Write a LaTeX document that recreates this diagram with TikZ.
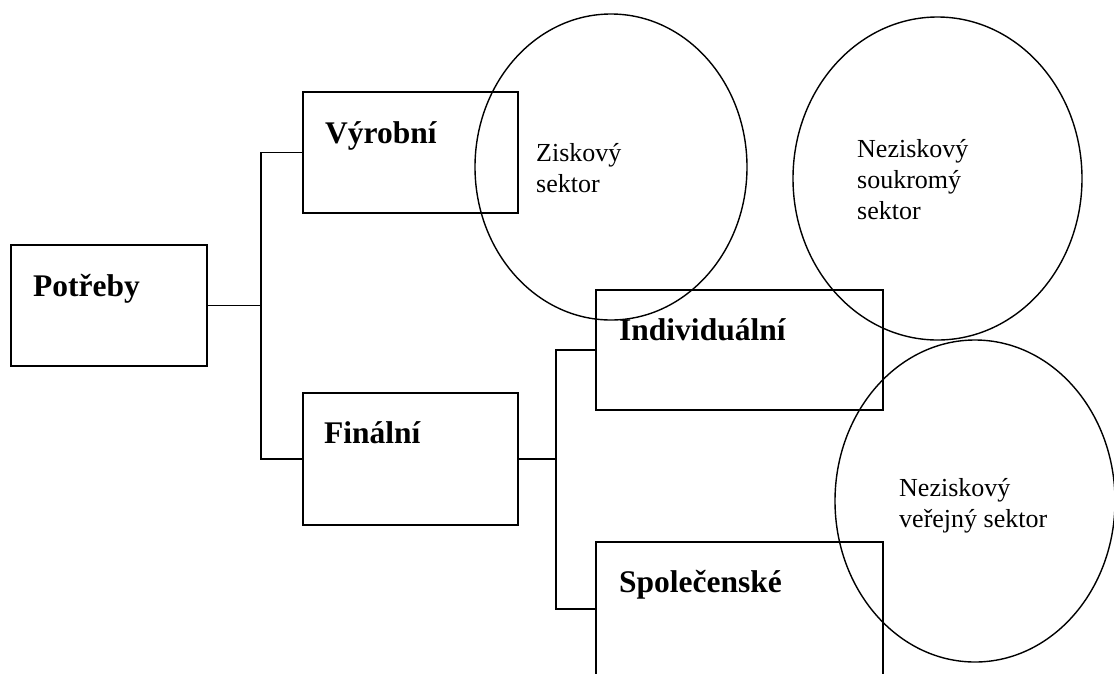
\documentclass[tikz,border=0pt]{standalone}
\usepackage{fontspec}
\setmainfont{Liberation Serif}
\usetikzlibrary{shapes.geometric}

\tikzset{
  box/.style={draw, line width=1.4pt, rectangle, inner sep=0pt},
  sector/.style={draw, line width=1.4pt, ellipse, inner sep=0pt},
  wire/.style={line width=1.4pt},
  boxlabel/.style={inner sep=0pt, anchor=base west, font=\fontsize{31.5}{36}\selectfont\bfseries},
  % multi-line labels: the base anchor sits on the last line
  sectorlabel/.style={inner sep=0pt, anchor=base west, align=left, font=\fontsize{26}{31}\selectfont}
}

\begin{document}
\begin{tikzpicture}[x=1pt, y=-1pt]
  \useasboundingbox (0,0) rectangle (1114,673);
  \clip (0,0) rectangle (1114,673);

  % need boxes
  \node[box, minimum width=196, minimum height=121] (pot) at (109,305.5) {};
  \node[box, minimum width=215, minimum height=121] (vyr) at (410.5,152.5) {};
  \node[box, minimum width=215, minimum height=132] (fin) at (410.5,459) {};
  \node[box, minimum width=287, minimum height=120] (ind) at (739.5,350) {};
  \node[box, minimum width=287, minimum height=134] (spo) at (739.5,609) {};

  \node[boxlabel] (potl) at (33,296) {Potřeby};
  \node[boxlabel] (vyrl) at (325,143) {Výrobní};
  \node[boxlabel] (finl) at (324,443) {Finální};
  \node[boxlabel] (indl) at (619,340) {Individuální};
  \node[boxlabel] (spol) at (619,592) {Společenské};

  % bus lines of the tree
  \coordinate (bus1) at (261,0);
  \coordinate (bus2) at (556,0);
  \draw[wire] (pot.east) -- (pot.east -| bus1);
  \draw[wire] (vyr.west) -| (bus1 |- fin.west) -- (fin.west);
  \draw[wire] (fin.east) -- (fin.east -| bus2);
  \draw[wire] (ind.west) -| (bus2 |- spo.west) -- (spo.west);

  % sectors
  \node[sector, minimum width=272, minimum height=306] (zisk) at (611,167) {};
  \node[sector, minimum width=289, minimum height=323] (soukr) at (937.5,178.5) {};
  \node[sector, minimum width=280, minimum height=322] (verej) at (975,501) {};

  \node[sectorlabel] (ziskl) at (536,192) {Ziskový\\sektor};
  \node[sectorlabel] (soukrl) at (857,219) {Neziskový\\soukromý\\sektor};
  \node[sectorlabel] (verejl) at (899,527) {Neziskový\\veřejný sektor};
\end{tikzpicture}
\end{document}
